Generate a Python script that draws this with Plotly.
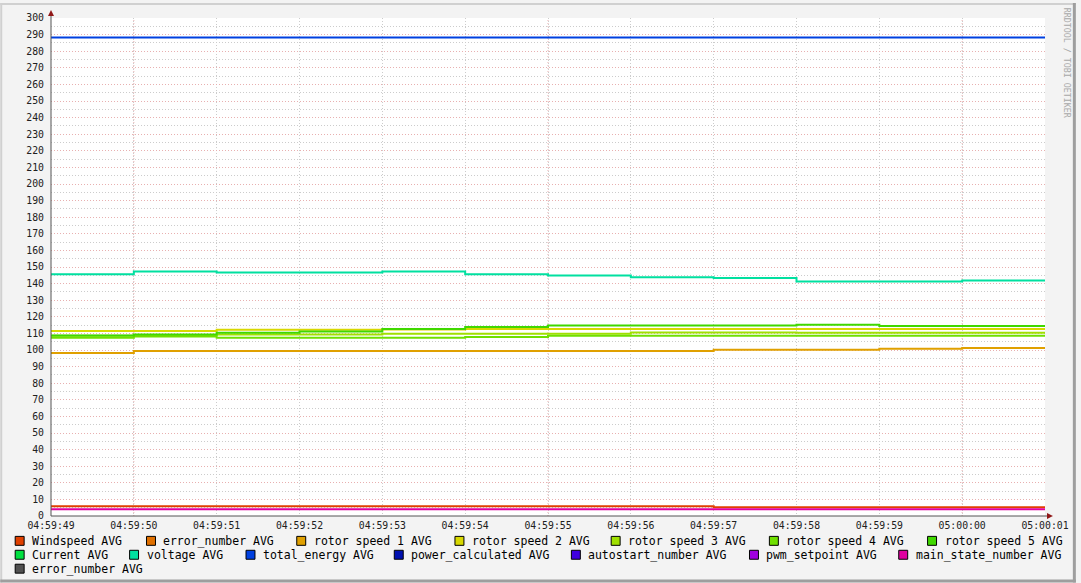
import plotly.graph_objects as go

# ---------------- data ----------------
times = ["04:59:49", "04:59:50", "04:59:51", "04:59:52", "04:59:53", "04:59:54", "04:59:55",
         "04:59:56", "04:59:57", "04:59:58", "04:59:59", "05:00:00", "05:00:01"]
tick_labels = times
major_grid_times = ["04:59:50", "04:59:55", "05:00:00"]

# one value per 1-second interval (12 intervals)
windspeed = [5.8, 5.8, 5.8, 5.8, 5.8, 5.8, 5.8, 5.8, 5.2, 5.2, 5.2, 5.2]
error_number = [None] * 12
rotor_speed_1 = [98.2, 99.4, 99.4, 99.4, 99.4, 99.4, 99.4, 99.4, 100.2, 100.2, 100.8, 101.2]
rotor_speed_2 = [111.4, 111.4, 112.2, 112.2, 112.4, 112.6, 112.6, 112.6, 112.6, 112.6, 112.6, 112.6]
rotor_speed_3 = [108.6, 109.0, 109.4, 109.4, 109.8, 109.8, 109.8, 110.6, 110.6, 110.4, 110.4, 110.4]
rotor_speed_4 = [107.4, 108.2, 107.4, 107.4, 107.4, 107.8, 108.6, 108.6, 108.6, 108.6, 108.6, 108.6]
rotor_speed_5 = [108.8, 109.4, 110.4, 111.2, 112.6, 113.8, 114.8, 114.8, 114.8, 115.2, 114.4, 114.4]
current = [None] * 12
voltage = [145.7, 147.3, 146.7, 146.7, 147.3, 145.7, 144.9, 143.9, 143.3, 141.3, 141.3, 141.9]
total_energy = [288.2] * 12
power_calculated = [None] * 12
autostart_number = [None] * 12
pwm_setpoint = [None] * 12
main_state_number = [4.1] * 12
error_number_2 = [None] * 12

series_names = ["Windspeed AVG", "error_number AVG", "rotor speed 1 AVG", "rotor speed 2 AVG",
                "rotor speed 3 AVG", "rotor speed 4 AVG", "rotor speed 5 AVG", "Current AVG",
                "voltage AVG", "total_energy AVG", "power_calculated AVG", "autostart_number AVG",
                "pwm_setpoint AVG", "main_state_number AVG", "error_number AVG"]
series_values = [windspeed, error_number, rotor_speed_1, rotor_speed_2, rotor_speed_3,
                 rotor_speed_4, rotor_speed_5, current, voltage, total_energy, power_calculated,
                 autostart_number, pwm_setpoint, main_state_number, error_number_2]

# ---------------- styles ----------------
colors = ["#e04000", "#e07000", "#e0a000", "#d8d800", "#a0e000", "#70e000", "#40d800", "#00e040",
          "#00e0a0", "#0040e0", "#0010b0", "#4000e0", "#a000e0", "#e000a0", "#505050"]
# legend layout: (row, square left px)
legend_pos = [(0, 15), (0, 147), (0, 298), (0, 457), (0, 614), (0, 773), (0, 932),
              (1, 15), (1, 130), (1, 247), (1, 396), (1, 574), (1, 753), (1, 903),
              (2, 15)]
legend_row_y = [541, 555, 569]

W, H = 1081, 583
L, R, T, B = 51, 1050, 15, 516
FONT = "DejaVu Sans Mono"

def px(x):
    return (x - L) / (R - L)

def py(y):
    return (B - y) / (B - T)

day = "2024-01-01 "
xt = [day + t for t in times]

fig = go.Figure()
for name, vals, col in zip(series_names, series_values, colors):
    fig.add_trace(go.Scatter(
        x=xt, y=list(vals) + [vals[-1]], mode="lines", name=name,
        line=dict(color=col, width=2, shape="hv"), showlegend=False,
        hoverinfo="skip"))

shapes = []
# red major vertical grid lines
for t in major_grid_times:
    shapes.append(dict(type="line", xref="x", yref="paper", x0=day + t, x1=day + t,
                       y0=0, y1=1, layer="below",
                       line=dict(color="#e8b0b0", width=1, dash="1px,2px")))
# frame of the image
shapes += [
    dict(type="rect", xref="paper", yref="paper", x0=px(0), x1=px(W), y0=py(0), y1=py(2),
         line=dict(width=0), fillcolor="#d0d0d0", layer="below"),
    dict(type="rect", xref="paper", yref="paper", x0=px(0), x1=px(2), y0=py(0), y1=py(H),
         line=dict(width=0), fillcolor="#d0d0d0", layer="below"),
    dict(type="rect", xref="paper", yref="paper", x0=px(W - 3), x1=px(W), y0=py(0), y1=py(H),
         line=dict(width=0), fillcolor="#9e9e9e", layer="above"),
    dict(type="rect", xref="paper", yref="paper", x0=px(0), x1=px(W), y0=py(H - 3), y1=py(H),
         line=dict(width=0), fillcolor="#9e9e9e", layer="above"),
]
# axes lines with arrows
shapes += [
    dict(type="line", xref="paper", yref="paper", x0=0, x1=0, y0=0, y1=py(10),
         line=dict(color="#555555", width=1), layer="above"),
    dict(type="line", xref="paper", yref="paper", x0=0, x1=px(1055), y0=0, y1=0,
         line=dict(color="#555555", width=1), layer="above"),
    dict(type="path", xref="paper", yref="paper",
         path=f"M {px(48)} {py(13)} L {px(54)} {py(13)} L {px(51)} {py(7)} Z",
         fillcolor="#901818", line=dict(width=0), layer="above"),
    dict(type="path", xref="paper", yref="paper",
         path=f"M {px(1052)} {py(513)} L {px(1052)} {py(519)} L {px(1058)} {py(516)} Z",
         fillcolor="#901818", line=dict(width=0), layer="above"),
]

annotations = []
for name, col, (row, sx) in zip(series_names, colors, legend_pos):
    cy = legend_row_y[row]
    shapes.append(dict(type="rect", xref="paper", yref="paper",
                       x0=px(sx), x1=px(sx + 9), y0=py(cy - 4.5), y1=py(cy + 4.5),
                       fillcolor=col, line=dict(color="#000000", width=1), layer="above"))
    annotations.append(dict(text=name, xref="paper", yref="paper", x=px(sx + 15), y=py(cy),
                            xanchor="left", yanchor="middle", showarrow=False,
                            font=dict(family=FONT, size=11.5, color="#000000")))

annotations.append(dict(text="RRDTOOL / TOBI OETIKER", xref="paper", yref="paper",
                        x=px(1072), y=py(60), textangle=90, showarrow=False,
                        xanchor="center", yanchor="middle",
                        font=dict(family=FONT, size=8.3, color="#a8a8a8")))

fig.update_layout(
    width=W, height=H,
    margin=dict(l=L, r=W - R, t=T, b=H - B, pad=0),
    paper_bgcolor="#f3f3f3", plot_bgcolor="#ffffff",
    font=dict(family=FONT, size=10, color="#202020"),
    showlegend=False,
    shapes=shapes, annotations=annotations,
    xaxis=dict(
        type="date", range=[xt[0], xt[-1]], tickformat="%H:%M:%S",
        tickmode="array", tickvals=xt, ticktext=tick_labels,
        showgrid=True, gridcolor="#cccccc", griddash="1px,2px", gridwidth=1,
        zeroline=False, showline=False, ticks="", tickfont=dict(size=9.8),
        ticklabelstandoff=2,
    ),
    yaxis=dict(
        range=[0, 300], dtick=10, tick0=0,
        showgrid=True, gridcolor="#e8b0b0", griddash="1px,2px", gridwidth=1,
        minor=dict(dtick=5, showgrid=True, gridcolor="#cccccc", griddash="1px,2px"),
        zeroline=False, showline=False, ticks="", tickfont=dict(size=9.8),
        ticklabelstandoff=6,
    ),
)

fig.write_html("out.html", config={"displayModeBar": False, "staticPlot": True},
               post_script="document.body.style.margin='0';document.body.style.overflow='hidden';")
